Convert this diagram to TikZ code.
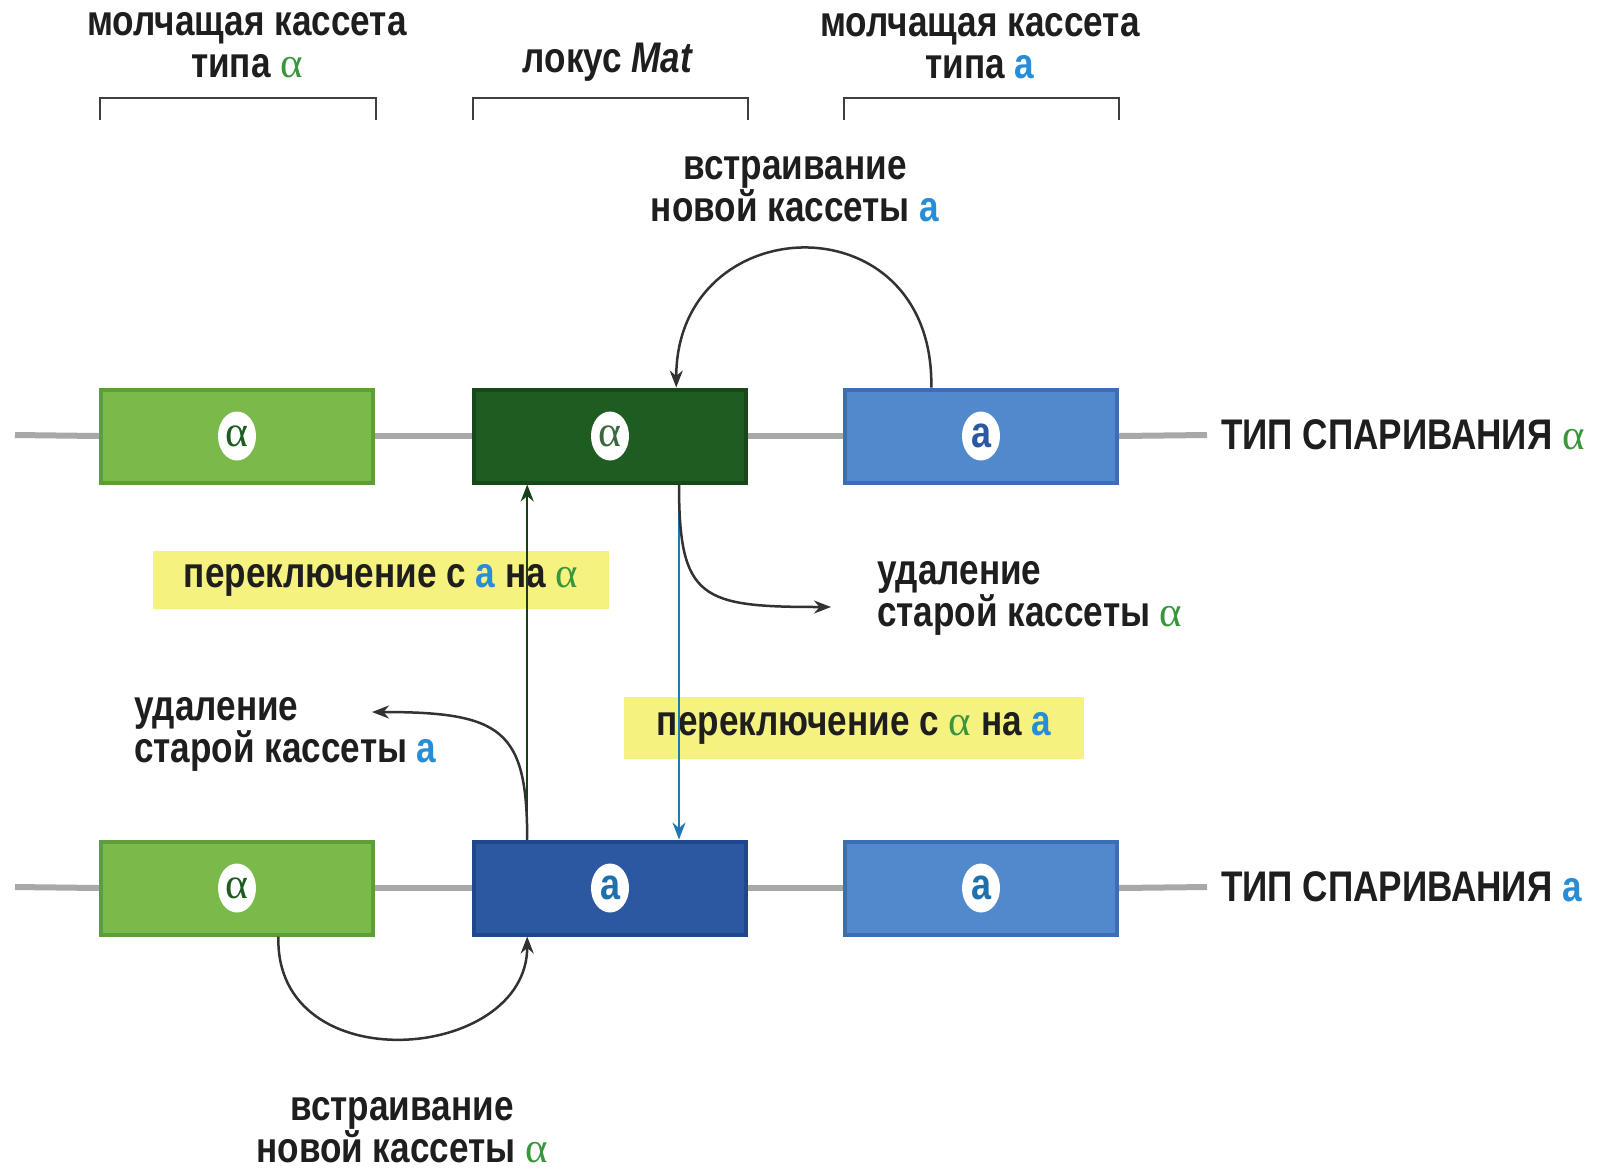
\documentclass[tikz,border=0pt]{standalone}
\usepackage{fontspec}
\setmainfont{Liberation Sans}[FakeStretch=0.82]
\newfontfamily\grk{Liberation Serif}
\usetikzlibrary{arrows.meta,calc,shapes.geometric}
\definecolor{lgreen}{RGB}{122,186,74}
\definecolor{lgreenE}{RGB}{92,158,56}
\definecolor{dgreen}{RGB}{30,92,34}
\definecolor{dgreenE}{RGB}{22,72,26}
\definecolor{lblue}{RGB}{82,136,204}
\definecolor{lblueE}{RGB}{60,110,182}
\definecolor{dblue}{RGB}{44,88,162}
\definecolor{dblueE}{RGB}{32,70,140}
\definecolor{agreen}{RGB}{58,150,60}
\definecolor{ablue}{RGB}{40,140,214}
\definecolor{dnagray}{RGB}{168,168,168}
\definecolor{arrgray}{RGB}{50,50,50}
\definecolor{hlyellow}{RGB}{246,242,128}
\definecolor{txtc}{RGB}{30,30,30}
\newcommand{\ga}{\textcolor{agreen}{{\mdseries\grk α}}}
\newcommand{\ba}{\textcolor{ablue}{a}}
\begin{document}
\begin{tikzpicture}[x=1bp,y=-1bp,
  txt/.style={font=\fontsize{43}{42}\selectfont\bfseries, inner sep=0, text=txtc, align=center},
  cass/.style={minimum width=272bp, minimum height=93bp, line width=4bp, inner sep=0},
  lett/.style={ellipse, fill=white, minimum width=38bp, minimum height=49bp, inner sep=0, font=\fontsize{44}{44}\selectfont\bfseries},
  dna/.style={draw=dnagray, line width=6bp},
  arr/.style={draw=arrgray, line width=2.5bp, -{Stealth[length=17bp,width=13bp]}},
  hl/.style={fill=hlyellow, inner sep=0, text=txtc, font=\fontsize{43}{42}\selectfont\bfseries},
  brk/.style={draw=black!75, line width=2.5bp}
]
\useasboundingbox (0,0) rectangle (1618,1171);
\fill[white] (0,0) rectangle (1618,1171);

% titles
\node[txt] (t1) at (247,45) {молчащая кассета\\типа \ga};
\node[txt] (t2) at (608,62) {локус \textit{Mat}};
\node[txt] (t3) at (980,46) {молчащая кассета\\типа \ba};
\draw[brk] (100,120) -- (100,98) -- (376,98) -- (376,120);
\draw[brk] (473,120) -- (473,98) -- (748,98) -- (748,120);
\draw[brk] (844,120) -- (844,98) -- (1119,98) -- (1119,120);

% highlight labels
\node[hl, minimum width=456bp, minimum height=58bp] (h1) at (381,580) {переключение с \ba{} на \ga};
\node[hl, minimum width=460bp, minimum height=62bp] (h2) at (854,728) {переключение с \ga{} на \ba};

% top row
\coordinate (tL) at (15,435);
\node[txt, anchor=west] (tLab) at (1221,435) {ТИП СПАРИВАНИЯ \ga};
\node[cass, fill=lgreen, draw=lgreenE] (tA1) at (237,436) {};
\node[cass, fill=dgreen, draw=dgreenE] (tA2) at (610,436) {};
\node[cass, fill=lblue, draw=lblueE] (tA3) at (981,436) {};
\draw[dna] (tL) -- (tA1.west);
\draw[dna] (tA1.east) -- (tA2.west);
\draw[dna] (tA2.east) -- (tA3.west);
\draw[dna] (tA3.east) -- ($(tLab.west)+(-14,0)$);
\node[lett, text=dgreen] (tl1) at (tA1) {\mdseries\grk α};
\node[lett, text=dgreen!70!gray] (tl2) at (tA2) {\mdseries\grk α};
\node[lett, text=dblue] (tl3) at (tA3) {a};

% bottom row
\coordinate (bL) at (15,887);
\node[txt, anchor=west] (bLab) at (1221,887) {ТИП СПАРИВАНИЯ \ba};
\node[cass, fill=lgreen, draw=lgreenE] (bA1) at (237,888) {};
\node[cass, fill=dblue, draw=dblueE] (bA2) at (610,888) {};
\node[cass, fill=lblue, draw=lblueE] (bA3) at (981,888) {};
\draw[dna] (bL) -- (bA1.west);
\draw[dna] (bA1.east) -- (bA2.west);
\draw[dna] (bA2.east) -- (bA3.west);
\draw[dna] (bA3.east) -- ($(bLab.west)+(-14,0)$);
\node[lett, text=dgreen] (bl1) at (bA1) {\mdseries\grk α};
\node[lett, text=ablue!80!black] (bl2) at (bA2) {a};
\node[lett, text=ablue!80!black] (bl3) at (bA3) {a};

% labels
\node[txt] (ins1) at (795,189) {встраивание\\новой кассеты \ba};
\node[txt, anchor=west, align=left] (del1) at (877,598) {удаление\\старой кассеты \ga};
\node[txt, anchor=west, align=left] (del2) at (134,734) {удаление\\старой кассеты \ba};
\node[txt] (ins2) at (402,1130) {встраивание\\новой кассеты \ga};

% connectors
\coordinate (p3) at ($(tA3.north west)!0.32!(tA3.north east)$);
\coordinate (p2t) at ($(tA2.north west)!0.74!(tA2.north east)$);
\draw[arr] (p3) .. controls ($(p3)+(3,-190)$) and ($(p2t)+(0,-180)$) .. (p2t);

\coordinate (gB) at ($(bA2.north west)!0.2!(bA2.north east)$);
\coordinate (gT) at ($(tA2.south west)!0.2!(tA2.south east)$);
\draw[arr, draw=dgreen!70!black] (gB) -- (gT);

\coordinate (bT) at ($(tA2.south west)!0.75!(tA2.south east)$);
\coordinate (bB) at ($(bA2.north west)!0.75!(bA2.north east)$);
\draw[arr, draw=ablue!85!black, line width=2bp] (bT) -- (bB);

\coordinate (d1) at (831,607);
\draw[arr] (bT) .. controls ($(bT)+(0,115)$) and ($(d1)+(-130,0)$) .. (d1);

\coordinate (d2) at (372,712);
\draw[arr] (gB) .. controls ($(gB)+(0,-110)$) and ($(d2)+(130,0)$) .. (d2);

\coordinate (q1) at ($(bA1.south west)!0.65!(bA1.south east)$);
\coordinate (q2) at ($(bA2.south west)!0.2!(bA2.south east)$);
\draw[arr] (q1) .. controls ($(q1)+(-4,146)$) and ($(q2)+(0,126)$) .. (q2);
\end{tikzpicture}
\end{document}
